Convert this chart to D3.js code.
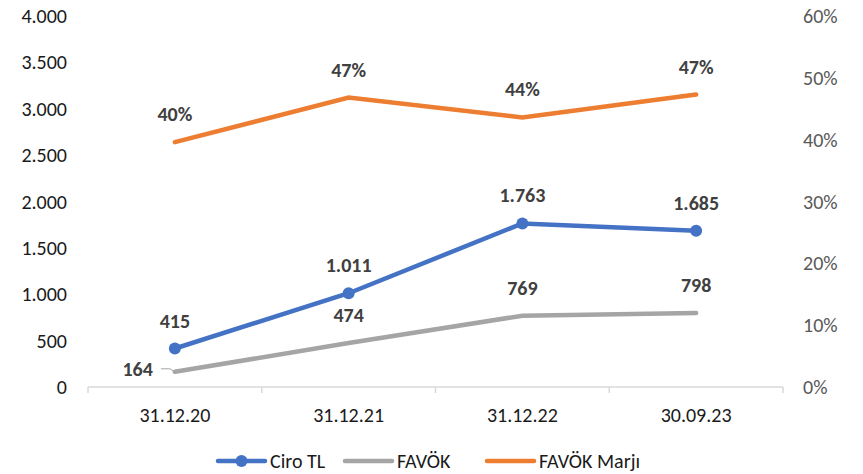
<!DOCTYPE html>
<html>
<head>
<meta charset="utf-8">
<script src="https://cdn.jsdelivr.net/npm/d3@7"></script>
<style>
  body { margin: 0; background: #fff; }
  text { font-family: Carlito, Lato, "Liberation Sans", sans-serif; }
</style>
</head>
<body>
<script>
// data
var categories = ["31.12.20", "31.12.21", "31.12.22", "30.09.23"];
var ciro = [415, 1011, 1763, 1685];
var favok = [164, 474, 769, 798];
var marj = [0.396, 0.468, 0.436, 0.473];
var leftTicks = [0, 500, 1000, 1500, 2000, 2500, 3000, 3500, 4000];
var rightTicks = [0, 0.1, 0.2, 0.3, 0.4, 0.5, 0.6];
var legendNames = ["Ciro TL", "FAVÖK", "FAVÖK Marjı"];

function draw()
{
    var width = 863, height = 474;
    var fs = 20;
    var svg = d3.select("body").append("svg")
        .attr("width", width)
        .attr("height", height);

    var tr = d3.formatLocale({decimal: ",", thousands: ".", grouping: [3], currency: ["", "TL"]});
    var fmt = tr.format(",.0f");
    var pct = tr.format(".0%");

    var x = d3.scaleBand().domain(categories).range([88, 783]).padding(0);
    var bw = x.bandwidth();
    var cx = function (d) { return x(d) + bw / 2; };
    var yL = d3.scaleLinear().domain([0, 4000]).range([387, 16]);
    var yR = d3.scaleLinear().domain([0, 0.6]).range([387, 16]);

    // left axis labels
    svg.append("g").selectAll("text").data(leftTicks).enter().append("text")
        .attr("x", 67).attr("y", function (d) { return yL(d); })
        .attr("dy", "0.35em").attr("text-anchor", "end")
        .attr("font-size", fs).attr("fill", "#1a1a1a")
        .text(function (d) { return fmt(d); });

    // right axis labels
    svg.append("g").selectAll("text").data(rightTicks).enter().append("text")
        .attr("x", 803).attr("y", function (d) { return yR(d); })
        .attr("dy", "0.35em").attr("text-anchor", "start")
        .attr("font-size", fs).attr("fill", "#595959")
        .text(function (d) { return pct(d); });

    // x axis
    var ax = svg.append("g");
    ax.append("line").attr("x1", 88).attr("x2", 783).attr("y1", 387).attr("y2", 387)
        .attr("stroke", "#d9d9d9").attr("stroke-width", 1.5);
    var edges = categories.map(function (d) { return x(d); }).concat([x.range()[1]]);
    ax.selectAll(".tk").data(edges).enter().append("line")
        .attr("x1", function (d) { return d; }).attr("x2", function (d) { return d; })
        .attr("y1", 387).attr("y2", 393)
        .attr("stroke", "#d9d9d9").attr("stroke-width", 1.5);
    ax.selectAll("text").data(categories).enter().append("text")
        .attr("x", cx).attr("y", 415).attr("dy", "0.35em")
        .attr("text-anchor", "middle").attr("font-size", fs).attr("fill", "#1a1a1a")
        .text(function (d) { return d; });

    var idx = d3.range(categories.length);

    // lines
    var lineL = function (arr) {
        return d3.line().x(function (i) { return cx(categories[i]); })
            .y(function (i) { return yL(arr[i]); })(idx);
    };
    var lineR = d3.line().x(function (i) { return cx(categories[i]); })
        .y(function (i) { return yR(marj[i]); });

    svg.append("path").attr("d", lineR(idx)).attr("fill", "none")
        .attr("stroke", "#ED7D31").attr("stroke-width", 4.5).attr("stroke-linecap", "round");
    svg.append("path").attr("d", lineL(favok)).attr("fill", "none")
        .attr("stroke", "#A5A5A5").attr("stroke-width", 4.5).attr("stroke-linecap", "round");
    svg.append("path").attr("d", lineL(ciro)).attr("fill", "none")
        .attr("stroke", "#4472C4").attr("stroke-width", 4.5).attr("stroke-linecap", "round");
    svg.append("g").selectAll("circle").data(idx).enter().append("circle")
        .attr("cx", function (i) { return cx(categories[i]); })
        .attr("cy", function (i) { return yL(ciro[i]); })
        .attr("r", 6).attr("fill", "#4472C4");

    // data labels
    var lab = svg.append("g").attr("font-size", fs).attr("font-weight", "bold")
        .attr("fill", "#404040").attr("text-anchor", "middle");
    idx.forEach(function (i) {
        var px = cx(categories[i]);
        lab.append("text").attr("x", px).attr("y", yL(ciro[i]) - 28).attr("dy", "0.35em").text(fmt(ciro[i]));
        lab.append("text").attr("x", px).attr("y", yR(marj[i]) - 28).attr("dy", "0.35em").text(pct(marj[i]));
        if (i == 0)
        {
            // label pushed left with leader line
            lab.append("text").attr("x", px - 22).attr("y", yL(favok[i]) - 3).attr("dy", "0.35em")
                .attr("text-anchor", "end").text(fmt(favok[i]));
            svg.append("path")
                .attr("d", "M" + (px - 14) + "," + (yL(favok[i]) - 3) + "H" + (px - 5) + "L" + px + "," + yL(favok[i]))
                .attr("fill", "none").attr("stroke", "#A5A5A5").attr("stroke-width", 1);
        }
        else
        {
            lab.append("text").attr("x", px).attr("y", yL(favok[i]) - 28).attr("dy", "0.35em").text(fmt(favok[i]));
        }
    });

    // legend
    var colors = ["#4472C4", "#A5A5A5", "#ED7D31"];
    var legX = [218, 345, 487];
    var leg = svg.append("g");
    legendNames.forEach(function (n, i) {
        var g = leg.append("g").attr("transform", "translate(" + legX[i] + ",461)");
        g.append("line").attr("x1", 0).attr("x2", 47).attr("y1", 0).attr("y2", 0)
            .attr("stroke", colors[i]).attr("stroke-width", 4.5).attr("stroke-linecap", "round");
        if (i == 0) g.append("circle").attr("cx", 23.5).attr("cy", 0).attr("r", 6).attr("fill", colors[i]);
        g.append("text").attr("x", 52).attr("y", 0).attr("dy", "0.35em")
            .attr("font-size", fs).attr("fill", "#1a1a1a").text(n);
    });
}
window.onload = draw;
</script>
</body>
</html>
